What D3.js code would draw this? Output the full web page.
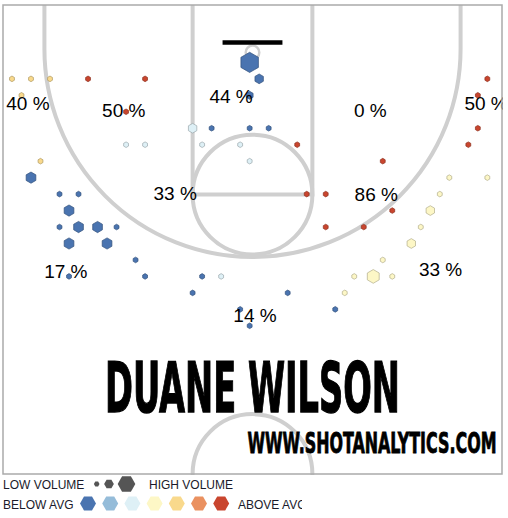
<!DOCTYPE html>
<html>
<head>
<meta charset="utf-8">
<script src="https://cdn.jsdelivr.net/npm/d3@7"></script>
<style>
  body { margin: 0; background: #fff; }
  svg { display: block; }
</style>
</head>
<body>
<div id="vis"></div>
<script>
// Frame
const FRAME_WIDTH = 508;
const FRAME_HEIGHT = 518;

// court box (pixels) - half court, 50 x 47 ft
const COURT = {left: 3, right: 502, top: 5, bottom: 474};

// hexbins: column, row, shot count, colour level (0 = far below avg ... 6 = far above)
const binCol   = [12, 0, 1, 2, 4, 7, 13, 25, 0, 12, 24, 6, 9, 10, 12, 13, 24, 6, 7, 10, 12, 15, 24, 1, 12, 19,
                  1, 23, 25, 2, 3, 15, 16, 22, 3, 20, 22, 2, 3, 4, 5, 16, 18, 21, 3, 5, 21, 6, 19,
                  3, 7, 10, 11, 18, 19, 20, 9, 14, 17, 12, 17, 12];
const binRow   = [3, 4, 4, 4, 4, 4, 4, 4, 5, 5, 5, 6, 7, 7, 7, 7, 7, 8, 8, 8, 8, 8, 8, 9, 9, 9,
                  10, 10, 10, 11, 11, 11, 11, 11, 12, 12, 12, 13, 13, 13, 13, 13, 13, 13, 14, 14, 14, 15, 15,
                  16, 16, 16, 16, 16, 16, 16, 17, 17, 17, 18, 18, 19];
const binCount = [13, 1, 1, 1, 1, 1, 3, 1, 1, 2, 1, 1, 3, 1, 1, 1, 1, 1, 1, 1, 1, 1, 1, 1, 1, 1,
                  4, 1, 1, 1, 1, 1, 1, 1, 4, 1, 3, 1, 4, 4, 1, 1, 1, 1, 4, 4, 3, 1, 1,
                  1, 1, 1, 1, 1, 6, 1, 1, 1, 1, 1, 1, 1];
const binLevel = [0, 4, 4, 4, 6, 6, 0, 6, 4, 0, 6, 6, 2, 0, 0, 0, 6, 2, 2, 2, 2, 6, 6, 4, 2, 6,
                  0, 3, 3, 0, 0, 6, 6, 3, 0, 6, 3, 0, 0, 0, 0, 6, 6, 3, 0, 0, 3, 0, 3,
                  0, 0, 0, 2, 3, 3, 3, 0, 0, 3, 0, 0, 0];

// zone field goal percentages and where they sit (feet)
const zonePct = [40, 50, 44, 0, 50, 33, 86, 33, 17, 14];
const zoneX   = [-22.5, -12.9, -2.15, 11.8, 23.4, -7.75, 12.4, 18.85, -18.7, 0.25];
const zoneY   = [10.5, 11.2, 9.8, 11.2, 10.5, 19.5, 19.6, 27.15, 27.35, 31.8];

// legend
const levelColors = ["#4a74b0", "#95bcd9", "#def0f6", "#fdf7c6", "#f9d98c", "#ea9160", "#c9452e"];
const volumeCounts = [1, 3, 11];

const bins = binCol.map((c, i) => ({col: c, row: binRow[i], count: binCount[i], level: binLevel[i]}));

// scales: feet -> pixels
const X_SCALE = d3.scaleLinear().domain([-25, 25]).range([COURT.left, COURT.right]);
const Y_SCALE = d3.scaleLinear().domain([0, 47]).range([COURT.top, COURT.bottom]);
const FT = X_SCALE(1) - X_SCALE(0);
const R_SCALE = d3.scaleSqrt().domain([0, 13]).range([0, 10.1]);

// hex grid (feet)
const HEX_R = 1.1;
const HEX_X0 = -24.1, HEX_Y0 = 0.8;
const HEX_DX = HEX_R * Math.sqrt(3), HEX_DY = HEX_R * 1.5;
const hexX = (d) => HEX_X0 + HEX_DX * (d.col + (d.row % 2) * 0.5);
const hexY = (d) => HEX_Y0 + HEX_DY * d.row;

function hexPath(r, rot) {
  const pts = d3.range(6).map((k) => {
    const a = Math.PI / 3 * k + rot;
    return [r * Math.sin(a), -r * Math.cos(a)];
  });
  return "M" + pts.join("L") + "Z";
}

const FRAME = d3.select("#vis")
  .append("svg")
    .attr("width", FRAME_WIDTH)
    .attr("height", FRAME_HEIGHT);

FRAME.append("clipPath").attr("id", "courtClip")
  .append("rect")
    .attr("x", 0).attr("y", 0)
    .attr("width", COURT.right + 1).attr("height", COURT.bottom + 1);

FRAME.append("clipPath").attr("id", "legendClip")
  .append("rect")
    .attr("x", 0).attr("y", COURT.bottom + 2)
    .attr("width", 302).attr("height", 50);

const COURT_G = FRAME.append("g").attr("clip-path", "url(#courtClip)");

const LINE = "#cfcfcf";

// court lines
const lines = COURT_G.append("g")
  .attr("fill", "none")
  .attr("stroke", LINE)
  .attr("stroke-width", 4);

// lane
lines.append("path")
  .attr("d", `M${X_SCALE(-6)},${Y_SCALE(0)}V${Y_SCALE(19)}H${X_SCALE(6)}V${Y_SCALE(0)}`);

// free throw circle
lines.append("circle")
  .attr("cx", X_SCALE(0)).attr("cy", Y_SCALE(19)).attr("r", 6 * FT);

// three point line
const BASKET_Y = 4.41, ARC_R = 20.85;
lines.append("path")
  .attr("d", `M${X_SCALE(-ARC_R)},${Y_SCALE(0)}V${Y_SCALE(BASKET_Y)}` +
             `A${ARC_R * FT},${ARC_R * FT} 0 0 0 ${X_SCALE(ARC_R)},${Y_SCALE(BASKET_Y)}V${Y_SCALE(0)}`);

// center circle
lines.append("circle")
  .attr("cx", X_SCALE(0)).attr("cy", Y_SCALE(47)).attr("r", 6 * FT);

// rim
COURT_G.append("circle")
  .attr("cx", X_SCALE(0)).attr("cy", Y_SCALE(4.75)).attr("r", 0.68 * FT)
  .attr("fill", "none").attr("stroke", LINE).attr("stroke-width", 2.5);

// backboard
COURT_G.append("line")
  .attr("x1", X_SCALE(-3)).attr("x2", X_SCALE(3))
  .attr("y1", Y_SCALE(3.75)).attr("y2", Y_SCALE(3.75))
  .attr("stroke", "#000").attr("stroke-width", 4.5);

// shot hexes
COURT_G.selectAll(".hex")
  .data(bins)
  .enter()
  .append("path")
    .attr("class", "hex")
    .attr("transform", (d) => `translate(${X_SCALE(hexX(d))},${Y_SCALE(hexY(d))})`)
    .attr("d", (d) => hexPath(R_SCALE(d.count), 0))
    .attr("fill", (d) => levelColors[d.level])
    .attr("stroke", (d) => d3.color(levelColors[d.level]).darker(1))
    .attr("stroke-width", 0.7);

// zone percentages
COURT_G.selectAll(".zone")
  .data(zonePct)
  .enter()
  .append("text")
    .attr("class", "zone")
    .attr("x", (d, i) => X_SCALE(zoneX[i]))
    .attr("y", (d, i) => Y_SCALE(zoneY[i]))
    .attr("text-anchor", "middle")
    .attr("font-family", "Liberation Sans, Arial, sans-serif")
    .attr("font-size", 19)
    .attr("fill", "#000")
    .text((d) => d + " %");

// player name + site, squeezed horizontally to a condensed look
const BIG_FONT = "'Liberation Sans Narrow', 'DejaVu Sans Condensed', 'Arial Narrow', sans-serif";
function bigText(str, x, y, size, width, sw) {
  const t = FRAME.append("text")
    .attr("font-family", BIG_FONT)
    .attr("font-weight", "bold")
    .attr("font-size", size)
    .attr("stroke", "#000").attr("stroke-width", sw)
    .text(str);
  const w = t.node().getComputedTextLength();
  t.attr("transform", `translate(${x},${y}) scale(${width / w},1)`);
}
bigText("DUANE WILSON", 105, 412, 69, 295, 1.3);
bigText("WWW.SHOTANALYTICS.COM", 247.5, 453.3, 28.6, 249, 0.8);

// court border
FRAME.append("rect")
  .attr("x", X_SCALE(-25)).attr("y", Y_SCALE(0))
  .attr("width", X_SCALE(25) - X_SCALE(-25))
  .attr("height", Y_SCALE(47) - Y_SCALE(0))
  .attr("fill", "none").attr("stroke", "#aaa").attr("stroke-width", 1.5);

// legend
const LEGEND = FRAME.append("g")
  .attr("clip-path", "url(#legendClip)")
  .attr("font-family", "Liberation Sans, Arial, sans-serif")
  .attr("font-size", 12)
  .attr("fill", "#1a1a2a");

LEGEND.append("text").attr("x", 3).attr("y", 488.5).text("LOW VOLUME");
LEGEND.append("text").attr("x", 149).attr("y", 488.5).text("HIGH VOLUME");
LEGEND.append("text").attr("x", 3).attr("y", 508.5).text("BELOW AVG");
LEGEND.append("text").attr("x", 238).attr("y", 508.5).text("ABOVE AVG");

const volX = [96.7, 109, 126.5];
LEGEND.selectAll(".vol")
  .data(volumeCounts)
  .enter()
  .append("path")
    .attr("class", "vol")
    .attr("transform", (d, i) => `translate(${volX[i]},484)`)
    .attr("d", (d) => hexPath(R_SCALE(d) * (d > 5 ? 0.95 : 1), Math.PI / 6))
    .attr("fill", "#555");

LEGEND.selectAll(".lvl")
  .data(levelColors)
  .enter()
  .append("path")
    .attr("class", "lvl")
    .attr("transform", (d, i) => `translate(${88 + 22.2 * i},503.5)`)
    .attr("d", hexPath(8, Math.PI / 6))
    .attr("fill", (d) => d);
</script>
</body>
</html>
